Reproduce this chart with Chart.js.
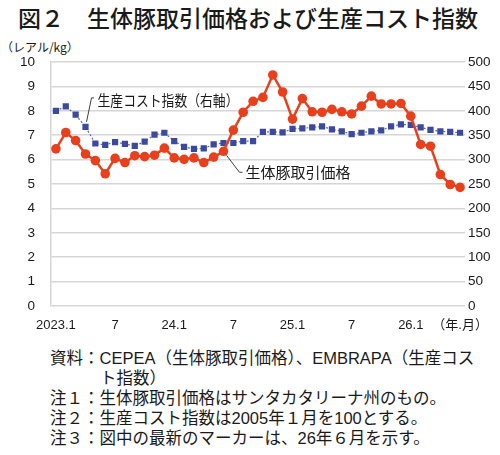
<!DOCTYPE html>
<html>
<head>
<meta charset="utf-8">
<script src="https://cdn.jsdelivr.net/npm/chart.js@4"></script>
<style>
  body { margin: 0; width: 500px; height: 455px; background: #fff; position: relative; overflow: hidden;
         font-family: 'Liberation Sans', 'Noto Sans CJK JP', sans-serif; color: #1a1a1a; }
  #title { position: absolute; left: 18px; top: 3px; font-family: 'Noto Sans CJK JP'; font-weight: 500;
           font-size: 23px; line-height: 28px; white-space: nowrap; }
  #unit { position: absolute; left: 1px; top: 39px; font-size: 12px; line-height: 16px; font-family: 'Noto Sans CJK JP'; }
  #wrap { position: absolute; left: 0; top: 0; width: 500px; height: 335px; }
  .note { position: absolute; left: 50px; font-size: 16.5px; line-height: 20px; white-space: nowrap; }
</style>
</head>
<body>
<div id="title">図２　生体豚取引価格および生産コスト指数</div>
<div id="unit">（レアル/kg）</div>
<div id="wrap"><canvas id="pigChart"></canvas></div>
<div class="note" style="top:348px">資料：CEPEA（生体豚取引価格）、EMBRAPA（生産コス</div>
<div class="note" style="top:368px;left:100px">ト指数）</div>
<div class="note" style="top:388px">注１：生体豚取引価格はサンタカタリーナ州のもの。</div>
<div class="note" style="top:408px">注２：生産コスト指数は2005年１月を100とする。</div>
<div class="note" style="top:428px">注３：図中の最新のマーカーは、26年６月を示す。</div>
<script>
// months 2023.1 - 2026.6
var months = [
  '2023.1','2023.2','2023.3','2023.4','2023.5','2023.6','2023.7','2023.8','2023.9','2023.10','2023.11','2023.12',
  '2024.1','2024.2','2024.3','2024.4','2024.5','2024.6','2024.7','2024.8','2024.9','2024.10','2024.11','2024.12',
  '2025.1','2025.2','2025.3','2025.4','2025.5','2025.6','2025.7','2025.8','2025.9','2025.10','2025.11','2025.12',
  '2026.1','2026.2','2026.3','2026.4','2026.5','2026.6'
];
// live pig price (reais/kg, left axis)
var pigPrice = [
  6.44, 7.11, 6.78, 6.23, 5.96, 5.42, 6.05, 5.88, 6.16, 6.12, 6.18, 6.47,
  6.07, 6.01, 6.07, 5.88, 6.10, 6.34, 7.21, 7.94, 8.39, 8.55, 9.47, 8.77,
  7.66, 8.50, 7.96, 7.94, 8.06, 7.96, 7.87, 8.19, 8.60, 8.28, 8.28, 8.30,
  7.78, 6.62, 6.55, 5.39, 4.98, 4.86
];
// production cost index (2005.1 = 100, right axis)
var costIndex = [
  400, 409, 392, 367, 333, 330, 336, 332, 328, 337, 351, 355,
  338, 326, 322, 323, 331, 334, 334, 338, 338, 357, 357, 356,
  363, 364, 366, 368, 362, 358, 352, 355, 358, 360, 368, 372,
  371, 366, 361, 358, 357, 355
];
// x tick labels shown and where
var tickLabels = ['2023.1', '7', '24.1', '7', '25.1', '7', '26.1', '（年.月）'];
var tickIndex = [0, 6, 12, 18, 24, 30, 36, 41];

var priceName = '生体豚取引価格';
var costName = '生産コスト指数（右軸）';

var red = '#e8401c';
var blue = '#3c4a9e';
var gridColor = '#d6d6d6';

// labels next to the lines, with small leader lines
var leaders = {
  id: 'leaders',
  afterDatasetsDraw: function(chart) {
    var c = chart.ctx, x = chart.scales.x, yL = chart.scales.y, yR = chart.scales.y1;
    c.save();
    c.strokeStyle = '#404040';
    c.lineWidth = 1;
    c.fillStyle = '#1a1a1a';
    c.font = '15px "Noto Sans CJK JP"';
    c.textBaseline = 'middle';

    var ax = x.getPixelForValue(3), ay = yR.getPixelForValue(costIndex[3]);
    c.beginPath();
    c.moveTo(ax + 1, ay - 5);
    c.lineTo(ax + 6, ay - 29);
    c.lineTo(ax + 8.5, ay - 29);
    c.stroke();
    c.fillText(costName, ax + 12, ay - 27, 141);

    var bx = x.getPixelForValue(17), by = yL.getPixelForValue(pigPrice[17]);
    c.beginPath();
    c.moveTo(bx + 3, by + 4);
    c.lineTo(bx + 16, by + 21);
    c.lineTo(bx + 19, by + 21);
    c.stroke();
    c.fillText(priceName, bx + 22, by + 21);
    c.restore();
  }
};

var ctx = document.getElementById('pigChart').getContext('2d');
var chart = new Chart(ctx, {
  type: 'line',
  data: {
    labels: months,
    datasets: [{
      label: priceName,
      data: pigPrice,
      yAxisID: 'y',
      borderColor: red,
      backgroundColor: red,
      borderWidth: 2.5,
      pointRadius: 4.8,
      pointBorderWidth: 0,
      tension: 0
    }, {
      label: costName,
      data: costIndex,
      yAxisID: 'y1',
      borderColor: '#5b68b5',
      backgroundColor: blue,
      borderWidth: 1.2,
      borderDash: [2, 2],
      pointStyle: 'rect',
      pointRadius: 4.4,
      pointBorderWidth: 0,
      tension: 0
    }]
  },
  options: {
    responsive: true,
    maintainAspectRatio: false,
    animation: false,
    layout: { padding: { top: 62, left: 0, right: 0, bottom: 0 } },
    plugins: { legend: { display: false }, tooltip: { enabled: false } },
    scales: {
      x: {
        offset: true,
        grid: { display: false },
        border: { display: false },
        ticks: {
          autoSkip: false, maxRotation: 0, padding: 4,
          color: '#1a1a1a',
          font: { family: "'Liberation Sans', 'Noto Sans CJK JP'", size: 13 },
          callback: function(v, i) {
            var k = tickIndex.indexOf(i);
            return k < 0 ? '' : tickLabels[k];
          }
        },
        afterFit: function(s) { s.height = 29; }
      },
      y: {
        position: 'left',
        min: 0, max: 10,
        grid: { color: gridColor, lineWidth: 1.5, drawTicks: false },
        border: { color: gridColor, width: 1.5 },
        ticks: { stepSize: 1, padding: 16, color: '#1a1a1a',
                 font: { family: "'Liberation Sans'", size: 13.5 } },
        afterFit: function(s) { s.width = 51; }
      },
      y1: {
        position: 'right',
        min: 0, max: 500,
        grid: { drawOnChartArea: false, drawTicks: false },
        border: { display: false },
        ticks: { stepSize: 50, padding: 3, color: '#1a1a1a',
                 font: { family: "'Liberation Sans'", size: 13.5 } },
        afterFit: function(s) { s.width = 35; }
      }
    }
  },
  plugins: [leaders]
});
</script>
</body>
</html>
